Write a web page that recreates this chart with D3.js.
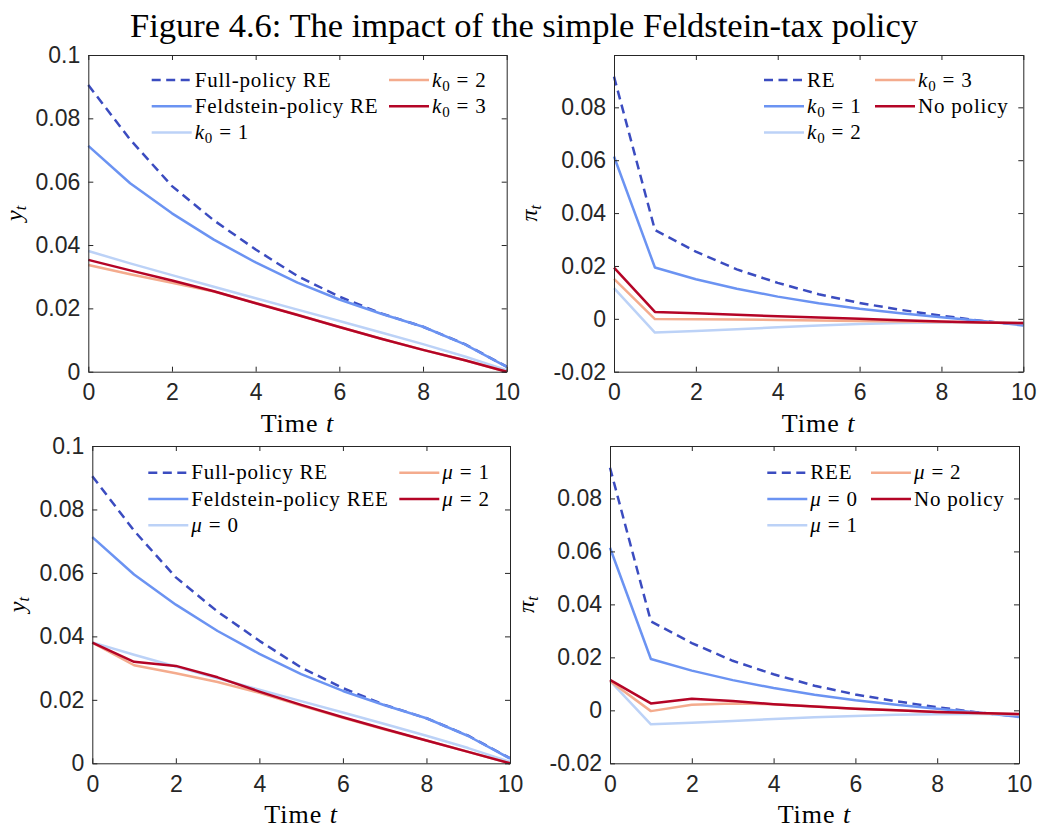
<!DOCTYPE html>
<html>
<head>
<meta charset="utf-8">
<script src="https://cdn.jsdelivr.net/npm/d3@7"></script>
<style>
  html, body { margin: 0; padding: 0; background: #fff; }
  svg { display: block; }
  text { white-space: pre; }
</style>
</head>
<body>
<div id="chart"></div>
<script>
// ---------- data ----------
const periods = [0, 1, 2, 3, 4, 5, 6, 7, 8, 9, 10];

// Output gap y_t, initial-belief experiment (k0)
const yFullRE   = [0.0905, 0.0733, 0.0586, 0.0478, 0.0386, 0.0302, 0.0237, 0.0184, 0.0142, 0.0087, 0.0016];
const yFeldRE   = [0.0713, 0.0595, 0.0500, 0.0417, 0.0345, 0.0281, 0.0228, 0.0183, 0.0142, 0.0086, 0.0015];
const yK1       = [0.0381, 0.0342, 0.0305, 0.0268, 0.0232, 0.0196, 0.0160, 0.0124, 0.0087, 0.0048, 0.0005];
const yK2       = [0.0337, 0.0308, 0.0281, 0.0253, 0.0217, 0.0180, 0.0141, 0.0104, 0.0069, 0.0036, 0.0000];
const yK3       = [0.0353, 0.0320, 0.0288, 0.0254, 0.0216, 0.0179, 0.0141, 0.0104, 0.0069, 0.0036, 0.0000];

// Inflation pi_t, initial-belief experiment (k0)
const piRE      = [0.0916, 0.0336, 0.0254, 0.0187, 0.0136, 0.0093, 0.0060, 0.0034, 0.0012, -0.0008, -0.0023];
const piK1      = [0.0614, 0.0194, 0.0150, 0.0114, 0.0084, 0.0059, 0.0038, 0.0021, 0.0006, -0.0008, -0.0025];
const piK2      = [0.0116, -0.0052, -0.0046, -0.0039, -0.0032, -0.0025, -0.0020, -0.0016, -0.0014, -0.0014, -0.0016];
const piK3      = [0.0151, -0.0001, -0.0002, -0.0003, -0.0004, -0.0006, -0.0008, -0.0010, -0.0012, -0.0014, -0.0016];
const piNoPol   = [0.0194, 0.0026, 0.0021, 0.0015, 0.0010, 0.0005, 0.0000, -0.0005, -0.0010, -0.0014, -0.0016];

// Output gap y_t, learning-gain experiment (mu)
const yFullRE2  = [0.0905, 0.0733, 0.0586, 0.0478, 0.0386, 0.0302, 0.0237, 0.0184, 0.0142, 0.0087, 0.0016];
const yFeldREE  = [0.0713, 0.0595, 0.0500, 0.0417, 0.0345, 0.0281, 0.0228, 0.0183, 0.0142, 0.0086, 0.0015];
const yMu0      = [0.0381, 0.0342, 0.0305, 0.0268, 0.0232, 0.0196, 0.0160, 0.0124, 0.0087, 0.0048, 0.0005];
const yMu1      = [0.0380, 0.0309, 0.0284, 0.0256, 0.0222, 0.0182, 0.0143, 0.0106, 0.0072, 0.0036, 0.0000];
const yMu2      = [0.0380, 0.0320, 0.0307, 0.0271, 0.0226, 0.0184, 0.0145, 0.0108, 0.0072, 0.0036, 0.0000];

// Inflation pi_t, learning-gain experiment (mu)
const piREE     = [0.0916, 0.0336, 0.0254, 0.0187, 0.0136, 0.0093, 0.0060, 0.0034, 0.0012, -0.0008, -0.0023];
const piMu0     = [0.0614, 0.0194, 0.0150, 0.0114, 0.0084, 0.0059, 0.0038, 0.0021, 0.0006, -0.0008, -0.0025];
const piMu1     = [0.0111, -0.0053, -0.0047, -0.0040, -0.0033, -0.0026, -0.0021, -0.0017, -0.0015, -0.0014, -0.0016];
const piMu2     = [0.0111, -0.0003, 0.0021, 0.0026, 0.0023, 0.0014, 0.0006, 0.0000, -0.0006, -0.0011, -0.0015];
const piNoPol2  = [0.0115, 0.0026, 0.0044, 0.0035, 0.0023, 0.0014, 0.0006, 0.0000, -0.0006, -0.0010, -0.0014];

// Tick values
const xTicks = [0, 2, 4, 6, 8, 10];
const yTicksOutput = [0, 0.02, 0.04, 0.06, 0.08, 0.1];
const yTicksInfl = [-0.02, 0, 0.02, 0.04, 0.06, 0.08];

// Legend labels ($...$ marks math)
const legendYK  = ["Full-policy RE", "Feldstein-policy RE", "$k_0 = 1$", "$k_0 = 2$", "$k_0 = 3$"];
const legendPiK = ["RE", "$k_0 = 1$", "$k_0 = 2$", "$k_0 = 3$", "No policy"];
const legendYMu = ["Full-policy RE", "Feldstein-policy REE", "$μ = 0$", "$μ = 1$", "$μ = 2$"];
const legendPiMu = ["REE", "$μ = 0$", "$μ = 1$", "$μ = 2$", "No policy"];

const titleText = "Figure 4.6: The impact of the simple Feldstein-tax policy";

// ---------- styling ----------
const colors = ["#3b4cc0", "#6b93f2", "#bcd2f7", "#f4ab8d", "#b40426"];
const dashed = [true, false, false, false, false];
const axisColor = "#262626";
const serif = "'Liberation Serif', 'Times New Roman', serif";
const sans = "'Liberation Sans', Arial, Helvetica, sans-serif";

const W = 1039, H = 832;
const svg = d3.select("#chart").append("svg")
  .attr("width", W).attr("height", H)
  .attr("viewBox", `0 0 ${W} ${H}`);
svg.append("rect").attr("width", W).attr("height", H).attr("fill", "#fff");

svg.append("text")
  .attr("x", 524).attr("y", 37)
  .attr("text-anchor", "middle")
  .attr("font-family", serif)
  .attr("font-size", 33)
  .attr("textLength", 788)
  .attr("lengthAdjust", "spacingAndGlyphs")
  .attr("fill", "#000")
  .text(titleText);

// Render a label string; $...$ segments become math with italic letters and subscripts.
function renderRich(textSel, label, subSize) {
  if (!label.startsWith("$")) { textSel.append("tspan").text(label); return; }
  const s = label.slice(1, -1);
  let i = 0, lowered = false;
  while (i < s.length) {
    const ch = s[i];
    if (ch === "_") {
      const sub = s[i + 1];
      const isLetter = /[A-Za-zμπ]/.test(sub);
      textSel.append("tspan").attr("dy", 4).attr("font-size", subSize)
        .attr("font-style", isLetter ? "italic" : "normal").text(sub);
      lowered = true;
      i += 2;
      continue;
    }
    const isLetter = /[A-Za-zμπ]/.test(ch);
    let j = i + 1;
    if (!isLetter) { while (j < s.length && !/[A-Za-zμπ_]/.test(s[j])) j++; }
    const ts = textSel.append("tspan").attr("font-style", isLetter ? "italic" : "normal").text(s.slice(i, j));
    if (lowered) { ts.attr("dy", -4); lowered = false; }
    i = j;
  }
}

const fmt = v => String(Math.round(v * 100) / 100);

function drawPanel(cfg) {
  const x = d3.scaleLinear().domain([0, 10]).range([cfg.left, cfg.right]);
  const y = d3.scaleLinear().domain(cfg.yDomain).range([cfg.bottom, cfg.top]);
  const g = svg.append("g");

  // series
  const line = d3.line().x((d, i) => x(periods[i])).y(d => y(d));
  cfg.series.forEach((s, k) => {
    g.append("path")
      .datum(s)
      .attr("fill", "none")
      .attr("stroke", colors[k])
      .attr("stroke-width", 2.5)
      .attr("stroke-linejoin", "round")
      .attr("stroke-dasharray", dashed[k] ? "9,5.5" : null)
      .attr("d", line);
  });

  // axes (box with inward ticks on all sides)
  const styleAxis = sel => {
    sel.selectAll("path.domain").attr("stroke", axisColor).attr("stroke-width", 1).attr("fill", "none");
    sel.selectAll(".tick line").attr("stroke", axisColor).attr("stroke-width", 1);
    sel.selectAll(".tick text").attr("fill", axisColor).attr("font-family", sans).attr("font-size", 23);
  };
  g.append("g").attr("transform", `translate(0,${cfg.bottom})`)
    .call(d3.axisBottom(x).tickValues(xTicks).tickSizeInner(-5).tickSizeOuter(0).tickPadding(12).tickFormat(fmt))
    .call(styleAxis);
  g.append("g").attr("transform", `translate(0,${cfg.top})`)
    .call(d3.axisTop(x).tickValues(xTicks).tickSizeInner(-5).tickSizeOuter(0).tickFormat(""))
    .call(styleAxis);
  g.append("g").attr("transform", `translate(${cfg.left},0)`)
    .call(d3.axisLeft(y).tickValues(cfg.yTicks).tickSizeInner(-5).tickSizeOuter(0).tickPadding(8).tickFormat(fmt))
    .call(styleAxis);
  g.append("g").attr("transform", `translate(${cfg.right},0)`)
    .call(d3.axisRight(y).tickValues(cfg.yTicks).tickSizeInner(-5).tickSizeOuter(0).tickFormat(""))
    .call(styleAxis);

  // x axis label: "Time" upright, t italic
  const xl = g.append("text")
    .attr("x", (cfg.left + cfg.right) / 2).attr("y", cfg.bottom + 60)
    .attr("text-anchor", "middle")
    .attr("font-family", serif).attr("font-size", 26)
    .attr("letter-spacing", 1)
    .attr("fill", "#000");
  xl.append("tspan").text("Time ");
  xl.append("tspan").attr("font-style", "italic").text("t");

  // y axis label (rotated)
  const yl = g.append("text")
    .attr("transform", `translate(${cfg.yLabelX},${(cfg.top + cfg.bottom) / 2}) rotate(-90)`)
    .attr("text-anchor", "middle")
    .attr("font-family", serif).attr("font-size", 24)
    .attr("fill", "#000");
  renderRich(yl, cfg.yLabel, 16);

  // legend: two columns, first column holds three entries
  cfg.legend.forEach((label, k) => {
    const col = k < 3 ? 0 : 1;
    const row = k < 3 ? k : k - 3;
    const lx = cfg.left + cfg.legendCols[col];
    const ly = cfg.top + cfg.legendTop + row * 26.3;
    g.append("line")
      .attr("x1", lx).attr("x2", lx + 40)
      .attr("y1", ly).attr("y2", ly)
      .attr("stroke", colors[k])
      .attr("stroke-width", 2.5)
      .attr("stroke-dasharray", dashed[k] ? "9,5.5" : null);
    const t = g.append("text")
      .attr("x", lx + 43).attr("y", ly + 6.5)
      .attr("font-family", serif).attr("font-size", 21)
      .attr("letter-spacing", 0.8)
      .attr("fill", "#000");
    renderRich(t, label, 15);
  });
}

drawPanel({
  left: 88.3, right: 506.7, top: 55, bottom: 371.7,
  yDomain: [0, 0.1], yTicks: yTicksOutput, yLabel: "$y_t$", yLabelX: 22,
  series: [yFullRE, yFeldRE, yK1, yK2, yK3],
  legend: legendYK, legendCols: [63.4, 300.7], legendTop: 25
});
drawPanel({
  left: 614, right: 1023.3, top: 55, bottom: 371.7,
  yDomain: [-0.02, 0.0998], yTicks: yTicksInfl, yLabel: "$π_t$", yLabelX: 537,
  series: [piRE, piK1, piK2, piK3, piNoPol],
  legend: legendPiK, legendCols: [150, 261], legendTop: 25
});
drawPanel({
  left: 92.3, right: 510, top: 446, bottom: 763.3,
  yDomain: [0, 0.1], yTicks: yTicksOutput, yLabel: "$y_t$", yLabelX: 25,
  series: [yFullRE2, yFeldREE, yMu0, yMu1, yMu2],
  legend: legendYMu, legendCols: [56, 307], legendTop: 26.7
});
drawPanel({
  left: 610, right: 1019, top: 446, bottom: 763.3,
  yDomain: [-0.02, 0.0998], yTicks: yTicksInfl, yLabel: "$π_t$", yLabelX: 534,
  series: [piREE, piMu0, piMu1, piMu2, piNoPol2],
  legend: legendPiMu, legendCols: [157.3, 261], legendTop: 26.7
});
</script>
</body>
</html>
